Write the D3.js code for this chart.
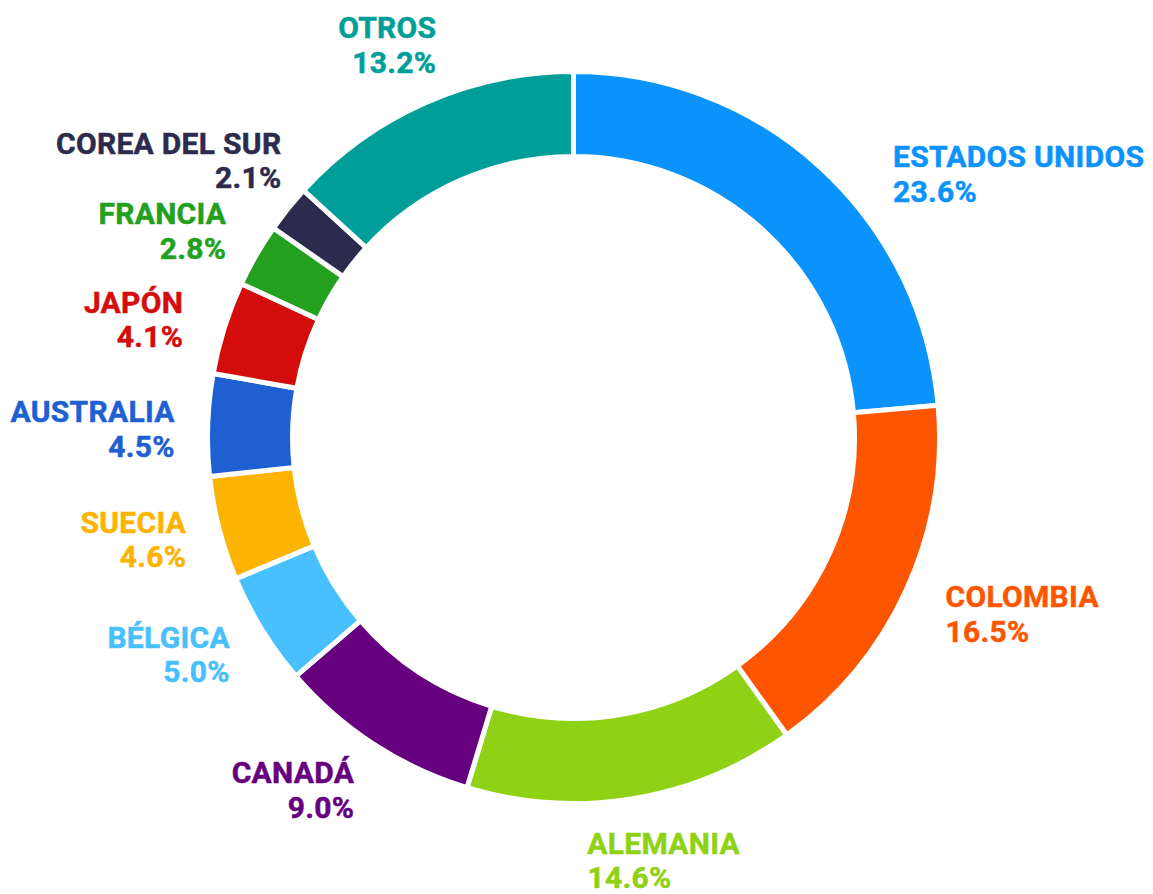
<!DOCTYPE html>
<html>
<head>
<meta charset="utf-8">
<script src="https://cdn.jsdelivr.net/npm/d3@7"></script>
<style>
  html, body { margin: 0; padding: 0; background: #fff; }
  svg text { font-family: Roboto, "Liberation Sans", sans-serif; font-weight: 700; }
</style>
</head>
<body>
<svg id="chart" width="1153" height="894"></svg>
<script>
/* ---------- data -------------------------------------------------- */
const countries = ["ESTADOS UNIDOS", "COLOMBIA", "ALEMANIA", "CANADÁ", "BÉLGICA",
                   "SUECIA", "AUSTRALIA", "JAPÓN", "FRANCIA", "COREA DEL SUR", "OTROS"];
const shares    = [23.6, 16.5, 14.6, 9.0, 5.0, 4.6, 4.5, 4.1, 2.8, 2.1, 13.2];
const colours   = ["#0a92fd", "#fd5500", "#8fd114", "#66007f", "#47c0fd",
                   "#fdb400", "#1e5fd2", "#d50c0c", "#22a01e", "#2c2b4d", "#009e98"];

/* label tweaks off the default radial spot, [dx, dy] */
const labelNudge = [[46, 35], [4, 7], [-52, 23], [2, 13], [1, 4],
                    [5, 1], [6, 5], [-4, 3], [4, -5], [24, -24], [26, -22]];

/* ---------- layout ------------------------------------------------ */
const cx = 573.5, cy = 437.5;
const outerR = 366, innerR = 281, labelR = 405;
const lineGap = 34.5;

const rows = countries.map((name, i) => ({name, value: shares[i], colour: colours[i], nudge: labelNudge[i]}));

const pie = d3.pie().sort(null).value(d => d.value);
const arc = d3.arc().innerRadius(innerR).outerRadius(outerR);

const svg = d3.select("#chart");
const g   = svg.append("g").attr("transform", `translate(${cx},${cy})`);

const arcs = pie(rows);

g.selectAll("path.slice")
  .data(arcs)
  .enter().append("path")
    .attr("class", "slice")
    .attr("d", arc)
    .attr("fill", d => d.data.colour)
    .attr("stroke", "#fff")
    .attr("stroke-width", 5)
    .attr("stroke-linejoin", "miter");

/* ---------- labels ------------------------------------------------ */
const fmt = d3.format(".1f");
const labels = g.selectAll("g.lbl")
  .data(arcs)
  .enter().append("g")
    .attr("class", "lbl")
    .attr("transform", d => {
      const a = (d.startAngle + d.endAngle) / 2;
      const x = Math.sin(a) * labelR + d.data.nudge[0];
      const y = -Math.cos(a) * labelR + d.data.nudge[1];
      return `translate(${x},${y})`;
    })
    .attr("text-anchor", d => ((d.startAngle + d.endAngle) / 2 > Math.PI ? "end" : "start"))
    .attr("fill", d => d.data.colour)
    .attr("stroke", d => d.data.colour)
    .attr("stroke-width", 0.5);

labels.append("text")
  .attr("y", -lineGap / 2)
  .attr("dy", "0.36em")
  .attr("font-size", 30)
  .attr("letter-spacing", 0.3)
  .text(d => d.data.name);

labels.append("text")
  .attr("y", lineGap / 2)
  .attr("dy", "0.36em")
  .attr("font-size", 30)
  .attr("letter-spacing", 0.3)
  .text(d => fmt(d.data.value) + "%");
</script>
</body>
</html>
